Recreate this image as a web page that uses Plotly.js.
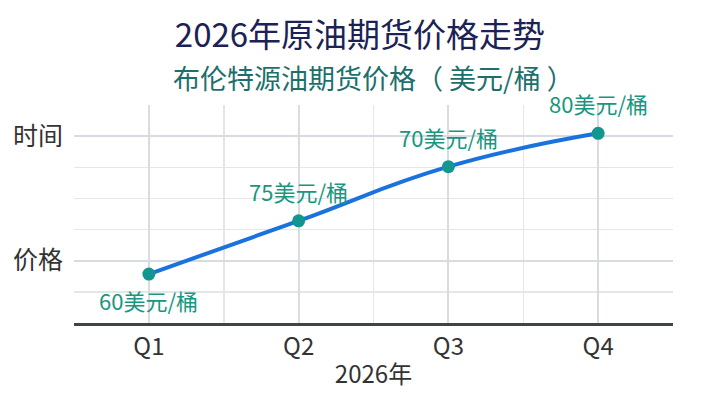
<!DOCTYPE html>
<html>
<head>
<meta charset="utf-8">
<script src="https://cdn.plot.ly/plotly-3.0.1.min.js"></script>
<style>
  html, body { margin: 0; padding: 0; background: #fff; }
  #myChart { width: 720px; height: 404px; }
</style>
</head>
<body>
<div id="myChart"></div>
<script>
// quarters on the x axis
var quarters = ["Q1", "Q2", "Q3", "Q4"]
// height of each point on the chart (grid units)
var pointLevels = [1.57, 3.28, 5.02, 6.09]
// price labels printed next to the points
var priceLabels = ["60美元/桶", "75美元/桶", "70美元/桶", "80美元/桶"]
// y tick labels as shown
var yTickVals = [2, 6]
var yTickText = ["价格", "时间"]

var font = "'Noto Sans CJK SC', 'Noto Sans', sans-serif"
var teal = "#17977f"

var data = [{
  x: quarters,
  y: pointLevels,
  type: 'scatter',
  mode: 'lines+markers',
  line: {
    color: "#1a72dd",
    width: 4,
    shape: 'spline',
    smoothing: 1.3
  },
  marker: {
    color: "#13968f",
    size: 13
  },
  hoverinfo: "skip"
}]

var annotations = []
for (let i = 0; i < quarters.length; i++) {
  annotations.push({
    x: quarters[i],
    y: pointLevels[i],
    text: priceLabels[i],
    showarrow: false,
    yshift: i == 0 ? -26 : 30,
    font: { family: font, size: 22, color: teal }
  })
}
// subtitle
annotations.push({
  xref: 'paper', yref: 'paper',
  x: 0.5, y: 1.128,
  xanchor: 'center', yanchor: 'middle',
  text: "布伦特源油期货价格（ 美元/桶 ）",
  showarrow: false,
  font: { family: font, size: 27, color: '#1d6f6c' }
})

var layout = {
  width: 720,
  height: 404,
  paper_bgcolor: '#ffffff',
  plot_bgcolor: '#ffffff',
  font: { family: font, size: 24, color: '#333333' },
  title: {
    text: "2026年原油期货价格走势",
    font: { family: font, size: 33, color: '#1c2255' },
    x: 0.5,
    xanchor: 'center',
    y: 0.912,
    yanchor: 'middle'
  },
  margin: { l: 74, r: 47, t: 105, b: 81 },
  xaxis: {
    type: 'category',
    range: [-0.5, 3.5],
    showgrid: true,
    gridcolor: '#d8dbe0',
    gridwidth: 2,
    zeroline: false,
    showline: true,
    linecolor: '#3e4448',
    linewidth: 3,
    ticks: '',
    tickfont: { family: font, size: 24, color: '#333333' },
    title: { text: "2026年", font: { family: font, size: 24, color: '#333333' }, standoff: 6 },
    minor: { tickvals: [-0.5, 0.5, 1.5, 2.5, 3.5], showgrid: true, gridcolor: '#e4e6ea', gridwidth: 1.5 },
    fixedrange: true
  },
  yaxis: {
    range: [0, 7],
    tickmode: 'array',
    tickvals: yTickVals,
    ticktext: yTickText,
    showgrid: true,
    gridcolor: '#d8dbe0',
    gridwidth: 2,
    zeroline: false,
    showline: false,
    ticks: '',
    ticklabelstandoff: 10,
    tickfont: { family: font, size: 25, color: '#333333' },
    minor: { tickvals: [1, 3, 4, 5, 7], showgrid: true, gridcolor: '#e4e6ea', gridwidth: 1.5 },
    fixedrange: true
  },
  annotations: annotations,
  showlegend: false
}

Plotly.newPlot('myChart', data, layout, { displayModeBar: false, staticPlot: true })
</script>
</body>
</html>
